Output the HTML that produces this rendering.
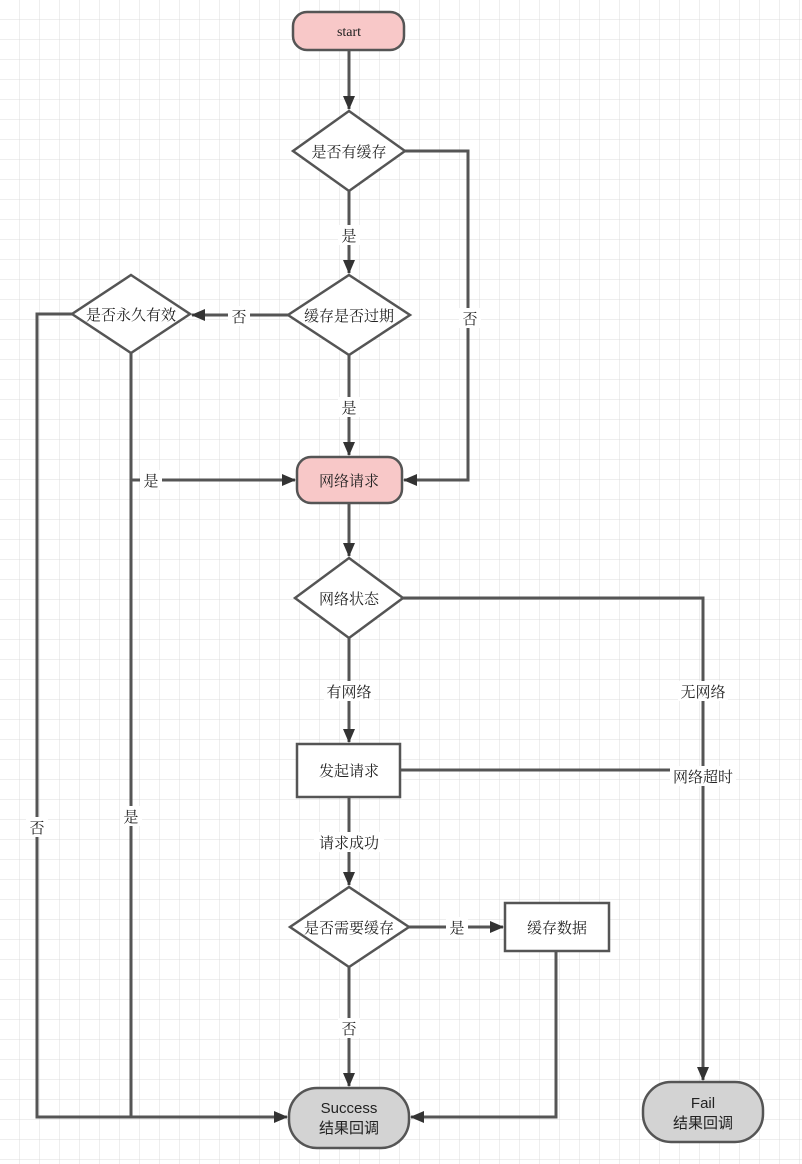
<!DOCTYPE html>
<html><head><meta charset="utf-8"><style>
html,body{margin:0;padding:0;background:#fff;}
svg{display:block;}
text{font-family:"Liberation Serif","Noto Serif CJK SC",serif;font-size:15px;fill:#222;}
.s{font-family:"Liberation Sans","Noto Sans CJK SC",sans-serif;}
</style></head><body>
<svg width="802" height="1164" viewBox="0 0 802 1164" xmlns="http://www.w3.org/2000/svg">
<defs>
<pattern id="g" width="20" height="20" patternUnits="userSpaceOnUse">
<path d="M20 0V20M0 20H20" stroke="#dcdcdc" stroke-width="1" fill="none"/>
</pattern>
<marker id="ab" markerWidth="14" markerHeight="14" refX="13" refY="7" orient="auto" markerUnits="userSpaceOnUse">
<path d="M0,1 L14,7 L0,13 Z" fill="#333"/>
</marker>
</defs>
<rect width="802" height="1164" fill="url(#g)"/>
<g stroke="#555" stroke-width="3" fill="none">
<path d="M349 50V109" marker-end="url(#ab)"/>
<path d="M405 151H468V480H404" marker-end="url(#ab)"/>
<path d="M349 191V273" marker-end="url(#ab)"/>
<path d="M288 315H192" marker-end="url(#ab)"/>
<path d="M349 355V455" marker-end="url(#ab)"/>
<path d="M72 314H37V1117H287" marker-end="url(#ab)"/>
<path d="M131 353V1117"/>
<path d="M131 480H295" marker-end="url(#ab)"/>
<path d="M349 503V556" marker-end="url(#ab)"/>
<path d="M403 598H703V1080" marker-end="url(#ab)"/>
<path d="M349 638V742" marker-end="url(#ab)"/>
<path d="M400 770H703"/>
<path d="M349 797V885" marker-end="url(#ab)"/>
<path d="M409 927H503" marker-end="url(#ab)"/>
<path d="M349 967V1086" marker-end="url(#ab)"/>
<path d="M556 951V1117H411" marker-end="url(#ab)"/>
</g>
<g stroke="#555" stroke-width="2.5">
<rect x="293" y="12" width="111" height="38" rx="14" fill="#f8c8c8"/>
<polygon points="349,111 405,151 349,191 293,151" fill="#fff"/>
<polygon points="349,275 410,315 349,355 288,315" fill="#fff"/>
<polygon points="131,275 190,314 131,353 72,314" fill="#fff"/>
<rect x="297" y="457" width="105" height="46" rx="14" fill="#f8c8c8"/>
<polygon points="349,558 403,598 349,638 295,598" fill="#fff"/>
<rect x="297" y="744" width="103" height="53" fill="#fff"/>
<polygon points="349,887 409,927 349,967 290,927" fill="#fff"/>
<rect x="505" y="903" width="104" height="48" fill="#fff"/>
<rect x="289" y="1088" width="120" height="60" rx="28" fill="#d3d3d3"/>
<rect x="643" y="1082" width="120" height="60" rx="28" fill="#d3d3d3"/>
</g>
<g text-anchor="middle">
<text x="349" y="36" style="font-size:14px">start</text>
<text x="349" y="157">是否有缓存</text>
<text x="349" y="321">缓存是否过期</text>
<text x="131" y="320">是否永久有效</text>
<text x="349" y="486">网络请求</text>
<text x="349" y="604">网络状态</text>
<text x="349" y="776">发起请求</text>
<text x="349" y="933">是否需要缓存</text>
<text x="557" y="933">缓存数据</text>
<text class="s" x="349" y="1113">Success</text>
<text class="s" x="349" y="1133">结果回调</text>
<text class="s" x="703" y="1108">Fail</text>
<text class="s" x="703" y="1128">结果回调</text>
</g>
<g text-anchor="middle">
<rect x="338" y="225" width="22" height="20" fill="#fff"/><text x="349" y="241">是</text>
<rect x="459" y="308" width="22" height="20" fill="#fff"/><text x="470" y="324">否</text>
<rect x="228" y="306" width="22" height="20" fill="#fff"/><text x="239" y="322">否</text>
<rect x="338" y="397" width="22" height="20" fill="#fff"/><text x="349" y="413">是</text>
<rect x="140" y="470" width="22" height="20" fill="#fff"/><text x="151" y="486">是</text>
<rect x="26" y="817" width="22" height="20" fill="#fff"/><text x="37" y="833">否</text>
<rect x="120" y="806" width="22" height="20" fill="#fff"/><text x="131" y="822">是</text>
<rect x="324" y="681" width="50" height="20" fill="#fff"/><text x="349" y="697">有网络</text>
<rect x="678" y="681" width="50" height="20" fill="#fff"/><text x="703" y="697">无网络</text>
<rect x="670" y="766" width="66" height="20" fill="#fff"/><text x="703" y="782">网络超时</text>
<rect x="314" y="832" width="70" height="20" fill="#fff"/><text x="349" y="848">请求成功</text>
<rect x="446" y="917" width="22" height="20" fill="#fff"/><text x="457" y="933">是</text>
<rect x="338" y="1018" width="22" height="20" fill="#fff"/><text x="349" y="1034">否</text>
</g>
</svg>
</body></html>
